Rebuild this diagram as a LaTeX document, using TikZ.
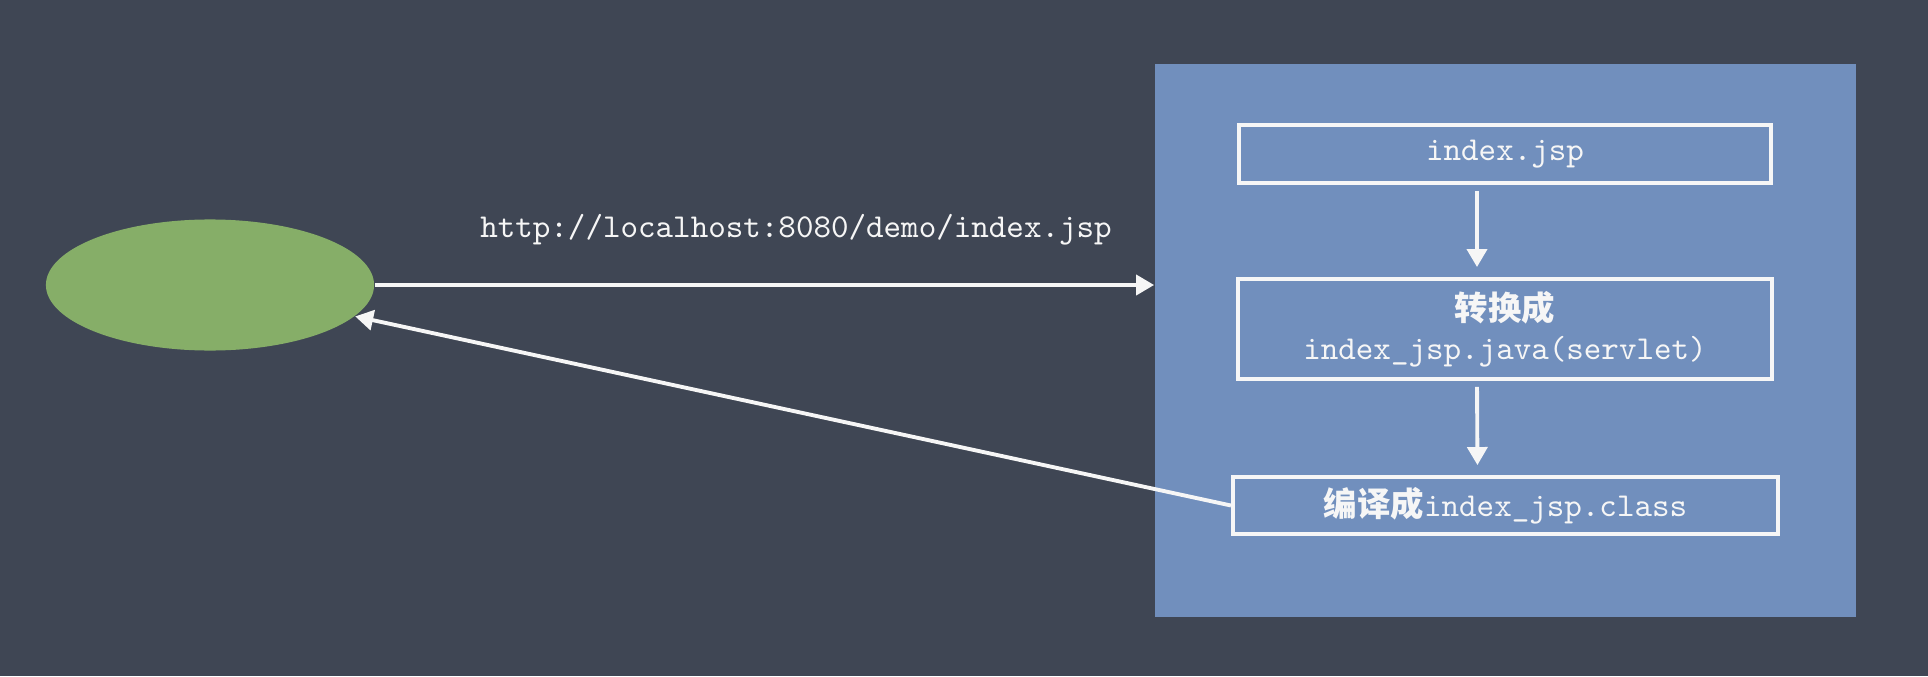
\documentclass[tikz,border=0pt]{standalone}
\usepackage{fontspec}
\usepackage{tikz}
\usetikzlibrary{shapes.geometric,arrows.meta}
\newfontfamily\cjk{Noto Sans CJK SC}
\definecolor{board}{RGB}{63,70,84}
\definecolor{panelblue}{RGB}{113,143,189}
\definecolor{clientgreen}{RGB}{134,174,104}
\definecolor{chalk}{RGB}{246,246,246}
\tikzset{
  chalkbox/.style={rectangle, draw=chalk, line width=1.1pt, inner sep=0pt, text=chalk,
    font=\fontsize{9.5}{12}\selectfont\ttfamily, align=center},
  chalkarrow/.style={draw=chalk, line width=1.1pt, -{Triangle[width=0.2cm,length=0.18cm]}},
  chalktext/.style={text=chalk, font=\fontsize{9.5}{12}\selectfont\ttfamily}
}
\begin{document}
\begin{tikzpicture}[x=0.01cm, y=-0.01cm]
\fill[board] (0,0) rectangle (1928,676);
\useasboundingbox (0,0) rectangle (1928,676);

\node[ellipse, fill=clientgreen, inner sep=0pt, minimum width=3.28cm, minimum height=1.31cm] (client) at (210,285) {};
\node[rectangle, fill=panelblue, inner sep=0pt, minimum width=7.01cm, minimum height=5.53cm] (server) at (1505.5,340.5) {};

\node[chalkbox, minimum width=5.32cm, minimum height=0.58cm] (jsp) at (1505,154) {index.jsp};
\node[chalkbox, minimum width=5.34cm, minimum height=1cm] (java) at (1505,329) {{\cjk\bfseries 转换成}\\[-1pt]index\_jsp.java(servlet)};
\node[chalkbox, minimum width=5.45cm, minimum height=0.57cm] (class) at (1505.5,505.5) {{\cjk\bfseries 编译成}index\_jsp.class};

\node[chalktext] (url) at (796,230) {http://localhost:8080/demo/index.jsp};

\draw[chalkarrow] (client.east) -- (client.east -| server.west);
\draw[chalkarrow, shorten <=0.06cm, shorten >=0.1cm] ([xshift=-0.28cm]jsp.south) -- ([xshift=-0.28cm]java.north);
\draw[chalkarrow, shorten <=0.06cm, shorten >=0.1cm] ([xshift=-0.28cm]java.south) -- ([xshift=-0.28cm]class.north);
\draw[chalkarrow] (class.west) -- (client);
\end{tikzpicture}
\end{document}
